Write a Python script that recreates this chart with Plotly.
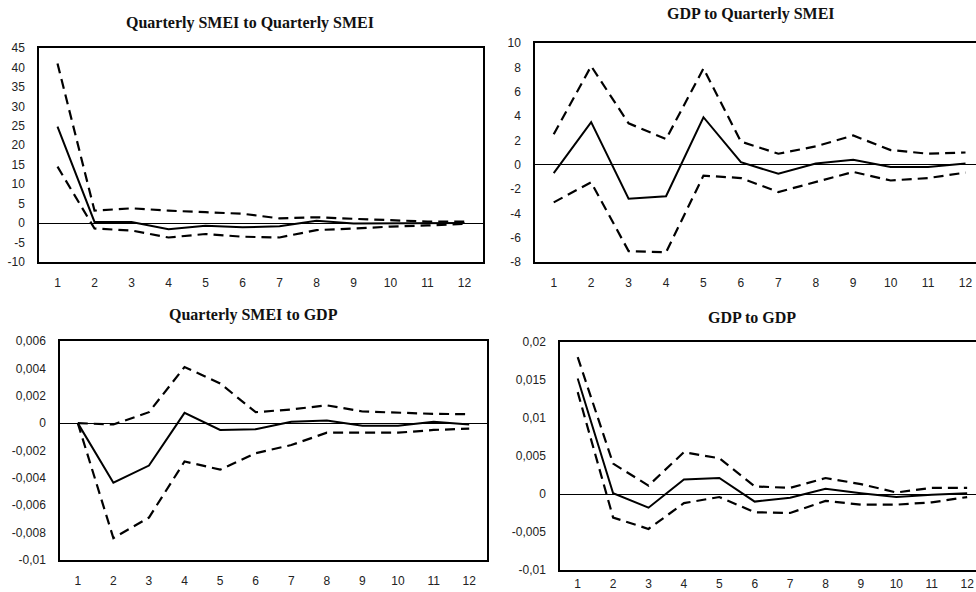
import plotly.graph_objects as go

periods = list(range(1, 13))

# Panel 1: Quarterly SMEI to Quarterly SMEI
p1_resp = [24.8, 0.3, 0.3, -1.6, -0.7, -1.1, -0.8, 0.6, -0.1, -0.1, 0.0, 0.0]
p1_up = [41.0, 3.2, 3.8, 3.2, 2.8, 2.4, 1.2, 1.5, 1.1, 0.8, 0.4, 0.4]
p1_lo = [14.5, -1.4, -1.9, -3.7, -2.8, -3.5, -3.7, -1.8, -1.4, -0.9, -0.6, -0.2]

# Panel 2: GDP to Quarterly SMEI
p2_resp = [-0.7, 3.5, -2.8, -2.6, 3.9, 0.2, -0.75, 0.1, 0.4, -0.2, -0.2, 0.1]
p2_up = [2.5, 8.1, 3.4, 2.1, 7.9, 1.9, 0.9, 1.5, 2.4, 1.2, 0.9, 1.0]
p2_lo = [-3.1, -1.45, -7.1, -7.2, -0.9, -1.1, -2.25, -1.4, -0.6, -1.3, -1.1, -0.65]

# Panel 3: Quarterly SMEI to GDP
p3_resp = [0.0, -0.00435, -0.0031, 0.00075, -0.0005, -0.00045, 0.0001, 0.0002, -0.0002, -0.0002, 0.0001, -0.0001]
p3_up = [0.0, -0.0001, 0.0008, 0.0041, 0.0029, 0.0008, 0.001, 0.0013, 0.00085, 0.00075, 0.00068, 0.00065]
p3_lo = [0.0, -0.0084, -0.0069, -0.0028, -0.0034, -0.0022, -0.0016, -0.0007, -0.0007, -0.0007, -0.0005, -0.0004]

# Panel 4: GDP to GDP
p4_resp = [0.0152, 0.0001, -0.0018, 0.0019, 0.0021, -0.001, -0.0005, 0.0007, 0.0001, -0.0004, -0.0001, 0.0001]
p4_up = [0.018, 0.004, 0.0011, 0.0055, 0.0047, 0.001, 0.0008, 0.0021, 0.0013, 0.0002, 0.0008, 0.0008]
p4_lo = [0.0134, -0.0031, -0.0046, -0.0012, -0.0004, -0.0024, -0.0025, -0.0009, -0.0014, -0.0014, -0.0011, -0.0004]

titles = ["Quarterly SMEI to Quarterly SMEI", "GDP to Quarterly SMEI",
          "Quarterly SMEI to GDP", "GDP to GDP"]

p1_ticks = [45, 40, 35, 30, 25, 20, 15, 10, 5, 0, -5, -10]
p1_text = ["45", "40", "35", "30", "25", "20", "15", "10", "5", "0", "-5", "-10"]
p2_ticks = [10, 8, 6, 4, 2, 0, -2, -4, -6, -8]
p2_text = ["10", "8", "6", "4", "2", "0", "-2", "-4", "-6", "-8"]
p3_ticks = [0.006, 0.004, 0.002, 0, -0.002, -0.004, -0.006, -0.008, -0.01]
p3_text = ["0,006", "0,004", "0,002", "0", "-0,002", "-0,004", "-0,006", "-0,008", "-0,01"]
p4_ticks = [0.02, 0.015, 0.01, 0.005, 0, -0.005, -0.01]
p4_text = ["0,02", "0,015", "0,01", "0,005", "0", "-0,005", "-0,01"]

W, H = 976, 592

panels = [
    dict(data=(p1_resp, p1_up, p1_lo), x=(39, 483), y=(48, 262), xr=[0.5, 12.5],
         yr=[-10, 45], tv=p1_ticks, tt=p1_text, mirror=True, title=(250, 23), xs=9),
    dict(data=(p2_resp, p2_up, p2_lo), x=(535, 976), y=(43, 262), xr=[0.5, 12.28],
         yr=[-8, 10], tv=p2_ticks, tt=p2_text, mirror=False, title=(751, 14), xs=9),
    dict(data=(p3_resp, p3_up, p3_lo), x=(60, 487), y=(341, 560), xr=[0.5, 12.5],
         yr=[-0.01, 0.006], tv=p3_ticks, tt=p3_text, mirror=True, title=(253, 315), xs=9),
    dict(data=(p4_resp, p4_up, p4_lo), x=(560, 976), y=(342, 570), xr=[0.5, 12.25],
         yr=[-0.01, 0.02], tv=p4_ticks, tt=p4_text, mirror=False, title=(752, 317), xs=2),
]

fig = go.Figure()
layout = dict(width=W, height=H, margin=dict(l=0, r=0, t=0, b=0, pad=0, autoexpand=False),
              paper_bgcolor="white", plot_bgcolor="white", showlegend=False,
              separators=",.", annotations=[])

tick_font = dict(family="Liberation Sans", size=12, color="#222")

for i, p in enumerate(panels):
    n = "" if i == 0 else str(i + 1)
    xa, ya = "x" + n, "y" + n
    resp, up, lo = p["data"]
    for vals, dash, w in ((up, "10px,6px", 2.2), (lo, "10px,6px", 2.2), (resp, "solid", 2)):
        fig.add_trace(go.Scatter(x=periods, y=vals, mode="lines", xaxis=xa, yaxis=ya,
                                 line=dict(color="black", width=w, dash=dash),
                                 hoverinfo="skip", cliponaxis=False))
    layout["xaxis" + n] = dict(domain=[p["x"][0] / W, p["x"][1] / W], range=p["xr"],
                               anchor=ya, tickvals=periods, ticktext=[str(v) for v in periods],
                               showgrid=False, zeroline=False, showline=True, linecolor="black",
                               linewidth=1.5, mirror=True, ticks="", tickfont=tick_font,
                               ticklabelstandoff=p["xs"], fixedrange=True, automargin=False)
    layout["yaxis" + n] = dict(domain=[1 - p["y"][1] / H, 1 - p["y"][0] / H], range=p["yr"],
                               anchor=xa, tickvals=p["tv"], ticktext=p["tt"],
                               showgrid=False, zeroline=True, zerolinecolor="black",
                               zerolinewidth=1, showline=True, linecolor="black",
                               linewidth=1.5, mirror=p["mirror"], ticks="", tickfont=tick_font,
                               ticklabelstandoff=10, fixedrange=True, automargin=False)
    tx, ty = p["title"]
    layout["annotations"].append(dict(text="<b>" + titles[i] + "</b>", x=tx / W, y=1 - ty / H,
                                      xref="paper", yref="paper", showarrow=False,
                                      xanchor="center", yanchor="middle",
                                      font=dict(family="Liberation Serif", size=16, color="#111")))

fig.update_layout(**layout)
fig.write_html("out.html", config={"displayModeBar": False},
               post_script="document.body.style.margin='0';document.body.style.overflow='hidden';")
